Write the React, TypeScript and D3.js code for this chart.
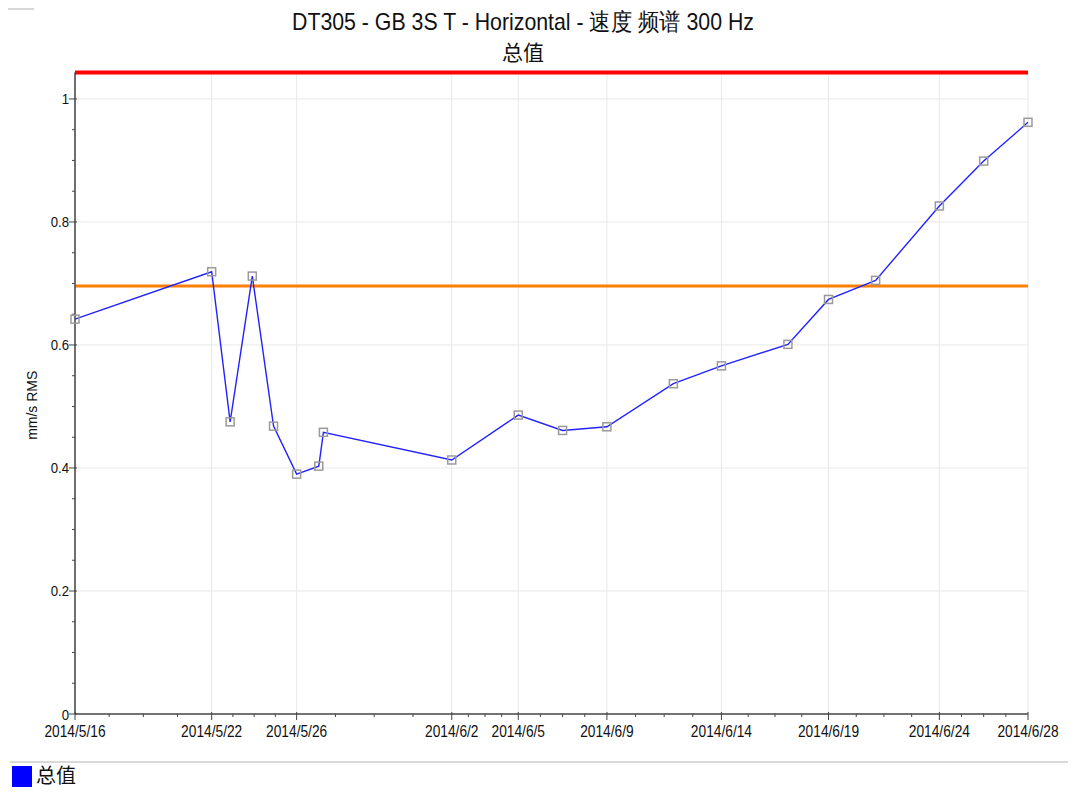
import React from "react";
import * as d3 from "d3";

const title = "DT305 - GB 3S T - Horizontal - 速度 频谱 300 Hz";
const subtitle = "总值";
const yAxisLabel = "mm/s RMS";
const seriesName = "总值";

const times = [
  "2014-05-16 00:00", "2014-05-22 04:00", "2014-05-23 00:00", "2014-05-24 00:00",
  "2014-05-24 23:00", "2014-05-26 00:00", "2014-05-27 00:00", "2014-05-27 05:00",
  "2014-06-02 00:00", "2014-06-05 00:00", "2014-06-07 00:00", "2014-06-09 00:00",
  "2014-06-12 00:00", "2014-06-14 04:00", "2014-06-17 04:00", "2014-06-19 00:00",
  "2014-06-21 03:00", "2014-06-24 00:00", "2014-06-26 00:00", "2014-06-28 00:00",
];
const values = [
  0.642, 0.719, 0.475, 0.712, 0.468, 0.390, 0.403, 0.458, 0.413, 0.486,
  0.461, 0.467, 0.537, 0.566, 0.601, 0.674, 0.705, 0.826, 0.899, 0.962,
];
const majorTickTimes = [
  "2014-05-16 00:00", "2014-05-22 04:00", "2014-05-26 00:00", "2014-06-02 00:00",
  "2014-06-05 00:00", "2014-06-09 00:00", "2014-06-14 04:00", "2014-06-19 00:00",
  "2014-06-24 00:00", "2014-06-28 00:00",
];
const yTicks = [0, 0.2, 0.4, 0.6, 0.8, 1];
const dangerLevel = 1.043;
const alertLevel = 0.696;
const yMax = 1.043;

const parse = d3.timeParse("%Y-%m-%d %H:%M");
const fmt = d3.timeFormat("%Y/%-m/%-d");

export default function App() {
  const W = 1080, H = 796;
  const left = 75, right = 1028, top = 72.5, bottom = 714;
  const dates = times.map((t) => parse(t) as Date);
  const x = d3.scaleTime().domain([dates[0], dates[dates.length - 1]]).range([left, right]);
  const y = d3.scaleLinear().domain([0, yMax]).range([bottom, top]);
  const data = dates.map((d, i) => ({ d, v: values[i] }));
  const line = d3.line<{ d: Date; v: number }>().x((p) => x(p.d)).y((p) => y(p.v));
  const majors = majorTickTimes.map((t) => parse(t) as Date);
  const minors: number[] = [];
  for (let i = 0; i < majors.length - 1; i++) {
    const a = x(majors[i]), b = x(majors[i + 1]);
    for (let k = 1; k < 4; k++) minors.push(a + ((b - a) * k) / 4);
  }
  const yMinor = d3.range(0, 1.0001, 0.05).filter((v) => Math.abs(v * 5 - Math.round(v * 5)) > 1e-6);
  const font = "'Liberation Sans', Arial, sans-serif";
  const cjk = "'Noto Sans CJK SC', 'Liberation Sans', sans-serif";
  const axisColor = "#444";
  const gridColor = "#e8e8e8";

  return (
    <svg width={W} height={H} style={{ position: "absolute", left: 0, top: 0, background: "#fff" }} fontFamily={font}>
      <line x1={8} x2={34} y1={9} y2={9} stroke="#c8c8c8" strokeWidth={1.5} />
      <text x={523} y={30} textAnchor="middle" fontSize={24} fill="#111" textLength={462} lengthAdjust="spacingAndGlyphs">
        {title}
      </text>
      <text x={523} y={60} textAnchor="middle" fontSize={21} fill="#111" fontFamily={cjk}>
        {subtitle}
      </text>

      {/* grid */}
      {majors.map((d, i) => (
        <line key={"vg" + i} x1={x(d)} x2={x(d)} y1={top} y2={bottom} stroke={gridColor} strokeWidth={1} />
      ))}
      {yTicks.filter((v) => v > 0).map((v, i) => (
        <line key={"hg" + i} x1={left} x2={right} y1={y(v)} y2={y(v)} stroke={gridColor} strokeWidth={1} />
      ))}

      {/* threshold lines */}
      <line x1={left} x2={right} y1={y(alertLevel)} y2={y(alertLevel)} stroke="#ff7f00" strokeWidth={3} />
      <line x1={left} x2={right} y1={y(dangerLevel)} y2={y(dangerLevel)} stroke="#ff0000" strokeWidth={4} />

      {/* axes */}
      <line x1={left} x2={left} y1={top} y2={bottom} stroke={axisColor} strokeWidth={1.5} />
      <line x1={left} x2={right} y1={bottom} y2={bottom} stroke={axisColor} strokeWidth={1.5} />
      {yTicks.map((v, i) => (
        <g key={"yt" + i}>
          <line x1={left - 6} x2={left + 2} y1={y(v)} y2={y(v)} stroke={axisColor} strokeWidth={1} />
          <text transform={`translate(${left - 6},${y(v) + 5.5}) scale(0.88,1)`} textAnchor="end" fontSize={15} fill="#111">
            {String(v)}
          </text>
        </g>
      ))}
      {yMinor.map((v, i) => (
        <line key={"ym" + i} x1={left - 3} x2={left} y1={y(v)} y2={y(v)} stroke={axisColor} strokeWidth={1} />
      ))}
      {majors.map((d, i) => (
        <g key={"xt" + i}>
          <line x1={x(d)} x2={x(d)} y1={bottom - 2} y2={bottom + 6} stroke={axisColor} strokeWidth={1} />
          <text transform={`translate(${x(d)},737) scale(0.86,1)`} textAnchor="middle" fontSize={16} fill="#111">
            {fmt(d)}
          </text>
        </g>
      ))}
      {minors.map((mx, i) => (
        <line key={"xm" + i} x1={mx} x2={mx} y1={bottom} y2={bottom + 3} stroke={axisColor} strokeWidth={1} />
      ))}
      <text transform={`translate(37,${(top + bottom) / 2 + 12}) rotate(-90)`} textAnchor="middle" fontSize={14} fill="#111">
        {yAxisLabel}
      </text>

      {/* series */}
      <path d={line(data) || ""} fill="none" stroke="#2222ff" strokeWidth={1.4} />
      {data.map((p, i) => (
        <rect key={"m" + i} x={x(p.d) - 4} y={y(p.v) - 4} width={8} height={8} fill="none" stroke="#9a9a9a" strokeWidth={1.5} />
      ))}

      {/* legend */}
      <line x1={10} x2={1068} y1={762} y2={762} stroke="#cccccc" strokeWidth={1.5} />
      <rect x={12} y={766} width={20} height={21} fill="#0000ff" />
      <text x={36} y={783} fontSize={20} fill="#111" fontFamily={cjk}>
        {seriesName}
      </text>
    </svg>
  );
}
